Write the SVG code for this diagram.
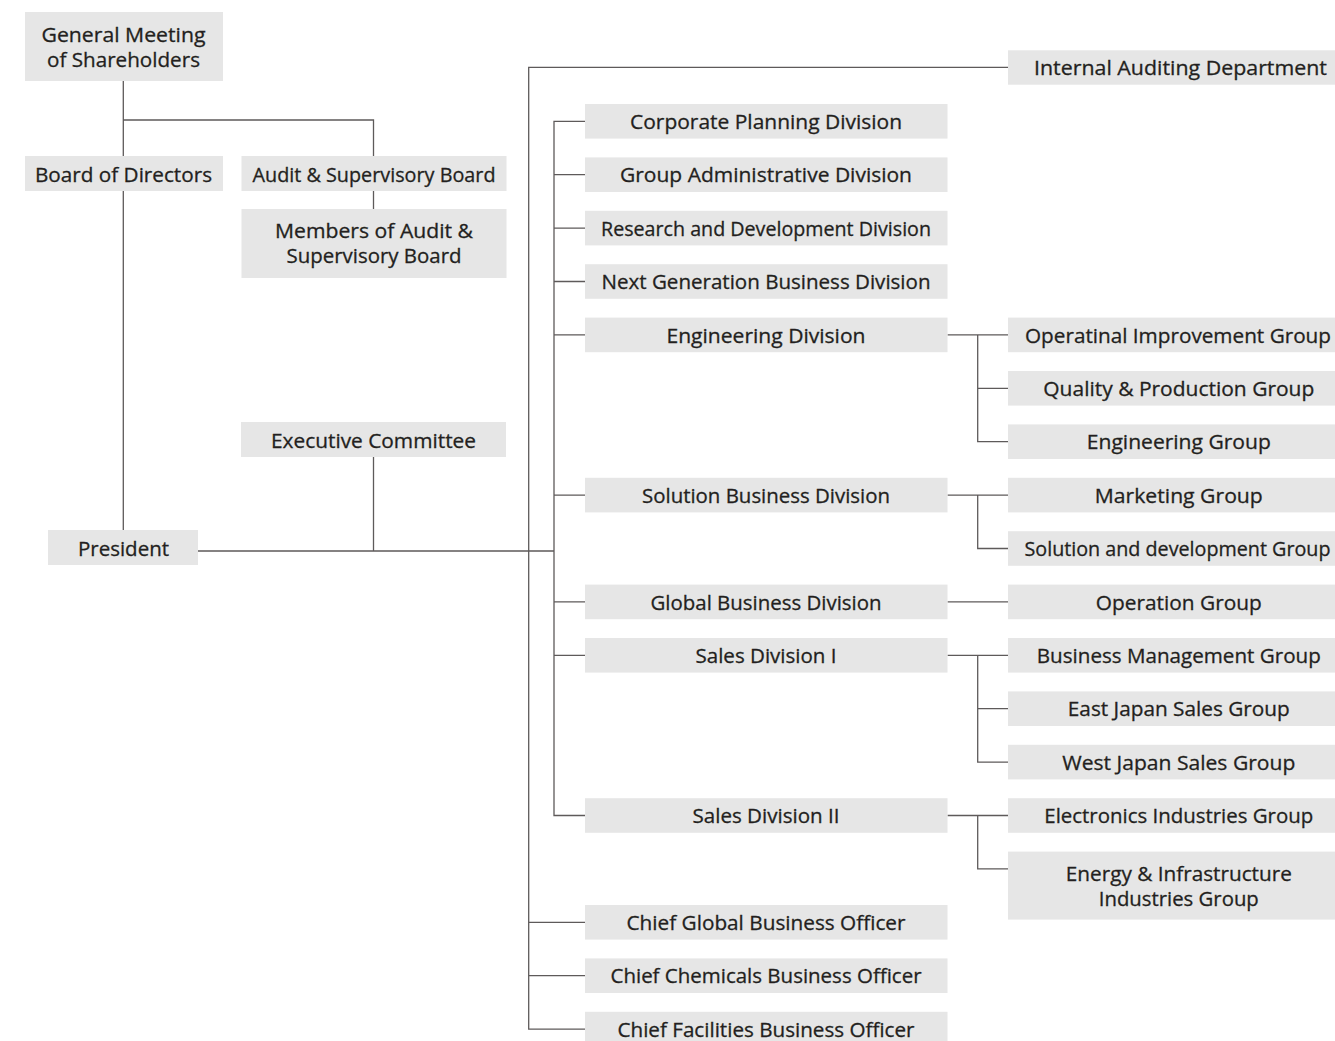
<svg xmlns="http://www.w3.org/2000/svg" width="1335" height="1041" viewBox="0 0 1335 1041">
<style>
.box{fill:#e6e6e6}
.t{font-family:"Open Sans","Noto Sans","DejaVu Sans",sans-serif;font-size:20.5px;fill:#231f20;stroke:#231f20;stroke-width:0.3px;text-anchor:middle}
.ln{stroke:#5e5a5a;stroke-width:1.3;fill:none}
</style>
<rect width="1335" height="1041" fill="#ffffff"/>
<g id="connectors" class="ln">
<path d="M123.3 81V156M123.3 120H373.5V156M373.5 191V209M123.3 191V530M198 551H554M373.5 457V551"/>
<path d="M1008 67.4H528.7V1029.1H585M528.7 922.3H585M528.7 975.7H585"/>
<path d="M585 121.3H554V815.5H585M554 174.7H585M554 228.1H585M554 281.5H585M554 334.9H585M554 495.1H585M554 601.9H585M554 655.3H585"/>
<path d="M947.5 334.9H1008M977.7 334.9V441.7H1008M977.7 388.3H1008"/>
<path d="M947.5 495.1H1008M977.7 495.1V548.5H1008"/>
<path d="M947.5 601.9H1008"/>
<path d="M947.5 655.3H1008M977.7 655.3V762.1H1008M977.7 708.7H1008"/>
<path d="M947.5 815.5H1008M977.7 815.5V868.9H1008"/>
</g>
<g id="general-meeting"><rect class="box" x="25" y="12" width="198" height="69"/><text class="t" x="123.5" y="41.7" textLength="164" lengthAdjust="spacingAndGlyphs">General Meeting</text><text class="t" x="123.5" y="66.7" textLength="153" lengthAdjust="spacingAndGlyphs">of Shareholders</text></g>
<g id="board-of-directors"><rect class="box" x="25" y="156" width="198" height="35"/><text class="t" x="123.5" y="182" textLength="177" lengthAdjust="spacingAndGlyphs">Board of Directors</text></g>
<g id="audit-board"><rect class="box" x="241.5" y="156" width="265" height="35"/><text class="t" x="374" y="182" textLength="243" lengthAdjust="spacingAndGlyphs">Audit &amp; Supervisory Board</text></g>
<g id="audit-members"><rect class="box" x="241.5" y="209" width="265" height="69"/><text class="t" x="374" y="238.3" textLength="198" lengthAdjust="spacingAndGlyphs">Members of Audit &amp;</text><text class="t" x="374" y="263.3" textLength="175" lengthAdjust="spacingAndGlyphs">Supervisory Board</text></g>
<g id="executive-committee"><rect class="box" x="241" y="422" width="265" height="35"/><text class="t" x="373.5" y="447.5" textLength="205" lengthAdjust="spacingAndGlyphs">Executive Committee</text></g>
<g id="president"><rect class="box" x="48" y="530" width="150" height="35"/><text class="t" x="123.5" y="555.5" textLength="91" lengthAdjust="spacingAndGlyphs">President</text></g>
<g id="div-corporate-planning"><rect class="box" x="585" y="104" width="362.5" height="34.6"/><text class="t" x="766" y="129" textLength="272" lengthAdjust="spacingAndGlyphs">Corporate Planning Division</text></g>
<g id="div-group-admin"><rect class="box" x="585" y="157.4" width="362.5" height="34.6"/><text class="t" x="766" y="182.4" textLength="292" lengthAdjust="spacingAndGlyphs">Group Administrative Division</text></g>
<g id="div-rnd"><rect class="box" x="585" y="210.8" width="362.5" height="34.6"/><text class="t" x="766" y="235.8" textLength="330" lengthAdjust="spacingAndGlyphs">Research and Development Division</text></g>
<g id="div-next-gen"><rect class="box" x="585" y="264.2" width="362.5" height="34.6"/><text class="t" x="766" y="289.2" textLength="329" lengthAdjust="spacingAndGlyphs">Next Generation Business Division</text></g>
<g id="div-engineering"><rect class="box" x="585" y="317.6" width="362.5" height="34.6"/><text class="t" x="766" y="342.6" textLength="199" lengthAdjust="spacingAndGlyphs">Engineering Division</text></g>
<g id="div-solution"><rect class="box" x="585" y="477.8" width="362.5" height="34.6"/><text class="t" x="766" y="502.8" textLength="248" lengthAdjust="spacingAndGlyphs">Solution Business Division</text></g>
<g id="div-global"><rect class="box" x="585" y="584.6" width="362.5" height="34.6"/><text class="t" x="766" y="609.6" textLength="231" lengthAdjust="spacingAndGlyphs">Global Business Division</text></g>
<g id="div-sales-1"><rect class="box" x="585" y="638" width="362.5" height="34.6"/><text class="t" x="766" y="663" textLength="141" lengthAdjust="spacingAndGlyphs">Sales Division I</text></g>
<g id="div-sales-2"><rect class="box" x="585" y="798.2" width="362.5" height="34.6"/><text class="t" x="766" y="823.2" textLength="147" lengthAdjust="spacingAndGlyphs">Sales Division II</text></g>
<g id="chief-global"><rect class="box" x="585" y="905" width="362.5" height="34.6"/><text class="t" x="766" y="930" textLength="279" lengthAdjust="spacingAndGlyphs">Chief Global Business Officer</text></g>
<g id="chief-chemicals"><rect class="box" x="585" y="958.4" width="362.5" height="34.6"/><text class="t" x="766" y="983.4" textLength="311" lengthAdjust="spacingAndGlyphs">Chief Chemicals Business Officer</text></g>
<g id="chief-facilities"><rect class="box" x="585" y="1011.8" width="362.5" height="34.6"/><text class="t" x="766" y="1036.8" textLength="297" lengthAdjust="spacingAndGlyphs">Chief Facilities Business Officer</text></g>
<g id="internal-auditing"><rect class="box" x="1008" y="50.3" width="330" height="34.4"/><text class="t" x="1180.5" y="75.3" textLength="293" lengthAdjust="spacingAndGlyphs">Internal Auditing Department</text></g>
<g id="grp-operational-improvement"><rect class="box" x="1008" y="317.6" width="330" height="34.6"/><text class="t" x="1178" y="342.6" textLength="306" lengthAdjust="spacingAndGlyphs">Operatinal Improvement Group</text></g>
<g id="grp-quality-production"><rect class="box" x="1008" y="371" width="330" height="34.6"/><text class="t" x="1178.8" y="396" textLength="271" lengthAdjust="spacingAndGlyphs">Quality &amp; Production Group</text></g>
<g id="grp-engineering"><rect class="box" x="1008" y="424.4" width="330" height="34.6"/><text class="t" x="1178.8" y="449.4" textLength="184" lengthAdjust="spacingAndGlyphs">Engineering Group</text></g>
<g id="grp-marketing"><rect class="box" x="1008" y="477.8" width="330" height="34.6"/><text class="t" x="1178.8" y="502.8" textLength="168" lengthAdjust="spacingAndGlyphs">Marketing Group</text></g>
<g id="grp-solution-dev"><rect class="box" x="1008" y="531.2" width="330" height="34.6"/><text class="t" x="1177.5" y="556.2" textLength="306" lengthAdjust="spacingAndGlyphs">Solution and development Group</text></g>
<g id="grp-operation"><rect class="box" x="1008" y="584.6" width="330" height="34.6"/><text class="t" x="1178.8" y="609.6" textLength="166" lengthAdjust="spacingAndGlyphs">Operation Group</text></g>
<g id="grp-business-mgmt"><rect class="box" x="1008" y="638" width="330" height="34.6"/><text class="t" x="1178.8" y="663" textLength="284" lengthAdjust="spacingAndGlyphs">Business Management Group</text></g>
<g id="grp-east-japan"><rect class="box" x="1008" y="691.4" width="330" height="34.6"/><text class="t" x="1178.8" y="716.4" textLength="222" lengthAdjust="spacingAndGlyphs">East Japan Sales Group</text></g>
<g id="grp-west-japan"><rect class="box" x="1008" y="744.8" width="330" height="34.6"/><text class="t" x="1178.8" y="769.8" textLength="233" lengthAdjust="spacingAndGlyphs">West Japan Sales Group</text></g>
<g id="grp-electronics"><rect class="box" x="1008" y="798.2" width="330" height="34.6"/><text class="t" x="1178.8" y="823.2" textLength="269" lengthAdjust="spacingAndGlyphs">Electronics Industries Group</text></g>
<g id="grp-energy"><rect class="box" x="1008" y="851.6" width="330" height="68"/><text class="t" x="1178.8" y="880.5" textLength="226" lengthAdjust="spacingAndGlyphs">Energy &amp; Infrastructure</text><text class="t" x="1178.8" y="905.5" textLength="160" lengthAdjust="spacingAndGlyphs">Industries Group</text></g>
</svg>
